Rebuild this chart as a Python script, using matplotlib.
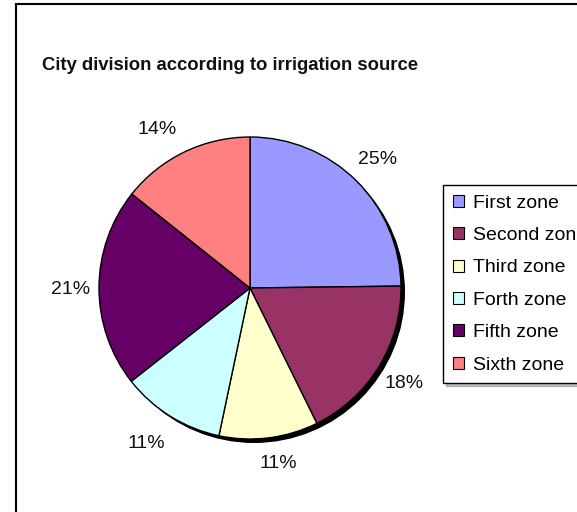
import matplotlib
matplotlib.use("Agg")
import matplotlib.pyplot as plt
from matplotlib.patches import Patch, Circle, Rectangle

plt.rcParams['font.family'] = ['Liberation Sans', 'DejaVu Sans']

zones = ["First zone", "Second zone", "Third zone", "Forth zone", "Fifth zone", "Sixth zone"]
values = [24.8, 17.9, 10.6, 11.1, 21.3, 14.3]
colors = ["#9999FF", "#993366", "#FFFFCC", "#CCFFFF", "#660066", "#FF8080"]
title = "City division according to irrigation source"

# small per-label nudges (pixels) to mimic the original label placement
label_nudges = [(0, 0), (0, -1), (6, 4), (-8, -2), (2, -2), (-14, -5)]

W, H = 577, 512
fig = plt.figure(figsize=(W / 100, H / 100), dpi=100)
ax = fig.add_axes([0, 0, 1, 1])

cx, cy, r = 250, H - 288, 151

# shadow
ax.add_patch(Circle((cx + 4, cy - 4), r, facecolor="black", edgecolor="none", zorder=0))

wedges, texts, autotexts = ax.pie(
    values, colors=colors, startangle=90, counterclock=False,
    center=(cx, cy), radius=r, autopct="%.0f%%", pctdistance=1.2,
    wedgeprops=dict(edgecolor="black", linewidth=1.0),
    textprops=dict(fontsize=14, color="#111111"), frame=True)
for w in wedges:
    w.set_zorder(1)
for t, (dx, dy) in zip(autotexts, label_nudges):
    x, y = t.get_position()
    t.set_position((x + dx, y + dy))

ax.set_xlim(0, W)
ax.set_ylim(0, H)
ax.set_aspect("equal")
ax.axis("off")

# chart frame
ax.add_patch(Rectangle((16, -20), 700, H - 4 + 20, fill=False, edgecolor="black",
                       linewidth=1.5, clip_on=False, zorder=5))

ax.text(42, H - 66, title, fontsize=13.3, fontweight="bold", ha="left", va="center", color="#111111")

handles = [Patch(facecolor=c, edgecolor="black", linewidth=0.8) for c in colors]
leg = ax.legend(handles, zones, loc="upper left", bbox_to_anchor=(443 / W, 1 - 185 / H),
                bbox_transform=fig.transFigure, borderaxespad=0, fontsize=14,
                frameon=True, fancybox=False, shadow={"color": "gray"},
                handlelength=0.57, handleheight=0.57, handletextpad=0.45,
                labelspacing=0.79, borderpad=0.5)
leg.get_frame().set_edgecolor("black")
leg.get_frame().set_linewidth(1.0)

fig.savefig("out.png", dpi=100)
